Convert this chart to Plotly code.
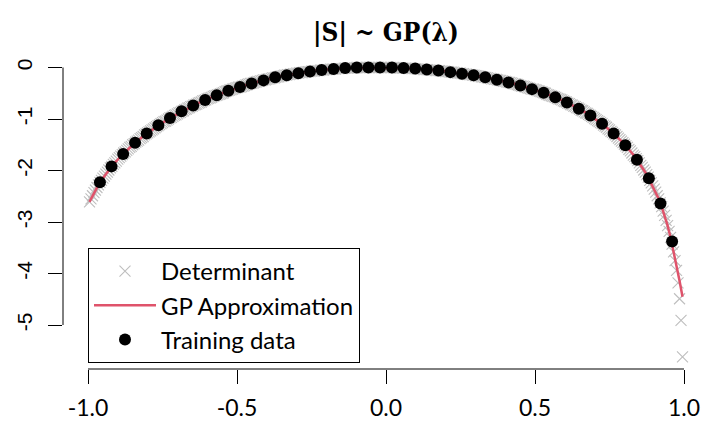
import numpy as np
import plotly.graph_objects as go

# ---- data ----
# lambda grid of the determinant evaluations (evenly spaced sample positions)
lam_det = np.round(np.linspace(-0.995, 0.995, 399), 3)
det_y = [
    -2.61, -2.55, -2.49, -2.43, -2.38, -2.33, -2.28, -2.23, -2.19, -2.15,
    -2.11, -2.07, -2.03, -1.99, -1.95, -1.92, -1.88, -1.85, -1.82, -1.78,
    -1.75, -1.72, -1.69, -1.66, -1.64, -1.61, -1.58, -1.55, -1.53, -1.50,
    -1.48, -1.45, -1.43, -1.41, -1.38, -1.36, -1.34, -1.31, -1.29, -1.27,
    -1.25, -1.23, -1.21, -1.19, -1.17, -1.15, -1.13, -1.11, -1.09, -1.07,
    -1.05, -1.04, -1.02, -1.00, -0.98, -0.97, -0.95, -0.93, -0.92, -0.90,
    -0.88, -0.87, -0.85, -0.84, -0.82, -0.81, -0.79, -0.78, -0.76, -0.75,
    -0.73, -0.72, -0.71, -0.69, -0.68, -0.67, -0.65, -0.64, -0.63, -0.61,
    -0.60, -0.59, -0.58, -0.56, -0.55, -0.54, -0.53, -0.52, -0.51, -0.50,
    -0.49, -0.47, -0.46, -0.45, -0.44, -0.43, -0.42, -0.41, -0.40, -0.39,
    -0.38, -0.38, -0.37, -0.36, -0.35, -0.34, -0.33, -0.32, -0.31, -0.31,
    -0.30, -0.29, -0.28, -0.27, -0.27, -0.26, -0.25, -0.24, -0.24, -0.23,
    -0.22, -0.22, -0.21, -0.20, -0.20, -0.19, -0.18, -0.18, -0.17, -0.17,
    -0.16, -0.15, -0.15, -0.14, -0.14, -0.13, -0.13, -0.12, -0.12, -0.11,
    -0.11, -0.10, -0.10, -0.10, -0.09, -0.09, -0.08, -0.08, -0.08, -0.07,
    -0.07, -0.07, -0.06, -0.06, -0.06, -0.05, -0.05, -0.05, -0.04, -0.04,
    -0.04, -0.04, -0.03, -0.03, -0.03, -0.03, -0.02, -0.02, -0.02, -0.02,
    -0.02, -0.01, -0.01, -0.01, -0.01, -0.01, -0.01, -0.01, -0.01, 0.00,
    0.00, 0.00, 0.00, 0.00, 0.00, 0.00, 0.00, 0.00, 0.00, 0.00,
    0.00, 0.00, 0.00, 0.00, 0.00, 0.00, 0.00, 0.00, 0.00, 0.00,
    0.00, 0.00, 0.00, 0.00, 0.00, 0.00, -0.01, -0.01, -0.01, -0.01,
    -0.01, -0.01, -0.01, -0.01, -0.02, -0.02, -0.02, -0.02, -0.02, -0.02,
    -0.03, -0.03, -0.03, -0.03, -0.04, -0.04, -0.04, -0.04, -0.05, -0.05,
    -0.05, -0.05, -0.06, -0.06, -0.06, -0.06, -0.07, -0.07, -0.07, -0.08,
    -0.08, -0.08, -0.09, -0.09, -0.09, -0.10, -0.10, -0.11, -0.11, -0.11,
    -0.12, -0.12, -0.13, -0.13, -0.14, -0.14, -0.14, -0.15, -0.15, -0.16,
    -0.16, -0.17, -0.17, -0.18, -0.18, -0.19, -0.19, -0.20, -0.21, -0.21,
    -0.22, -0.22, -0.23, -0.23, -0.24, -0.25, -0.25, -0.26, -0.27, -0.27,
    -0.28, -0.29, -0.29, -0.30, -0.31, -0.32, -0.32, -0.33, -0.34, -0.35,
    -0.36, -0.36, -0.37, -0.38, -0.39, -0.40, -0.41, -0.42, -0.42, -0.43,
    -0.44, -0.45, -0.46, -0.47, -0.48, -0.49, -0.50, -0.52, -0.53, -0.54,
    -0.55, -0.56, -0.57, -0.58, -0.60, -0.61, -0.62, -0.63, -0.65, -0.66,
    -0.67, -0.69, -0.70, -0.72, -0.73, -0.75, -0.76, -0.78, -0.79, -0.81,
    -0.83, -0.84, -0.86, -0.88, -0.89, -0.91, -0.93, -0.95, -0.97, -0.99,
    -1.01, -1.03, -1.05, -1.07, -1.09, -1.12, -1.14, -1.16, -1.19, -1.21,
    -1.24, -1.26, -1.29, -1.31, -1.34, -1.37, -1.40, -1.43, -1.46, -1.49,
    -1.52, -1.55, -1.59, -1.62, -1.66, -1.70, -1.73, -1.77, -1.81, -1.85,
    -1.90, -1.94, -1.99, -2.03, -2.08, -2.13, -2.19, -2.24, -2.30, -2.36,
    -2.42, -2.49, -2.55, -2.63, -2.70, -2.79, -2.87, -2.97, -3.07, -3.18,
    -3.30, -3.43, -3.58, -3.75, -3.94, -4.18, -4.49, -4.91, -5.62,
]

# lambda grid of the GP approximation curve
lam_gp = np.round(np.linspace(-0.995, 0.995, 200), 3)
gp_y = [
    -2.61, -2.49, -2.38, -2.28, -2.19, -2.11, -2.03, -1.95, -1.88, -1.82,
    -1.75, -1.69, -1.64, -1.58, -1.53, -1.48, -1.43, -1.38, -1.34, -1.29,
    -1.25, -1.21, -1.17, -1.13, -1.09, -1.05, -1.02, -0.98, -0.95, -0.92,
    -0.88, -0.85, -0.82, -0.79, -0.76, -0.73, -0.71, -0.68, -0.65, -0.63,
    -0.60, -0.58, -0.55, -0.53, -0.51, -0.49, -0.46, -0.44, -0.42, -0.40,
    -0.38, -0.37, -0.35, -0.33, -0.31, -0.30, -0.28, -0.27, -0.25, -0.24,
    -0.22, -0.21, -0.20, -0.18, -0.17, -0.16, -0.15, -0.14, -0.13, -0.12,
    -0.11, -0.10, -0.09, -0.08, -0.08, -0.07, -0.06, -0.06, -0.05, -0.04,
    -0.04, -0.03, -0.03, -0.02, -0.02, -0.02, -0.01, -0.01, -0.01, -0.01,
    0.00, 0.00, 0.00, 0.00, 0.00, 0.00, 0.00, 0.00, 0.00, 0.00,
    0.00, 0.00, 0.00, -0.01, -0.01, -0.01, -0.01, -0.02, -0.02, -0.02,
    -0.03, -0.03, -0.04, -0.04, -0.05, -0.05, -0.06, -0.06, -0.07, -0.07,
    -0.08, -0.09, -0.09, -0.10, -0.11, -0.12, -0.13, -0.14, -0.14, -0.15,
    -0.16, -0.17, -0.18, -0.19, -0.21, -0.22, -0.23, -0.24, -0.25, -0.27,
    -0.28, -0.29, -0.31, -0.32, -0.34, -0.36, -0.37, -0.39, -0.41, -0.42,
    -0.44, -0.46, -0.48, -0.50, -0.53, -0.55, -0.57, -0.60, -0.62, -0.65,
    -0.67, -0.70, -0.73, -0.76, -0.79, -0.83, -0.86, -0.89, -0.93, -0.97,
    -1.01, -1.05, -1.09, -1.14, -1.19, -1.24, -1.29, -1.34, -1.40, -1.46,
    -1.52, -1.59, -1.66, -1.73, -1.81, -1.90, -1.99, -2.08, -2.19, -2.30,
    -2.42, -2.55, -2.70, -2.87, -3.07, -3.30, -3.56, -3.85, -4.14, -4.45,
]

train_x = [-0.960, -0.921, -0.882, -0.842, -0.803, -0.764, -0.725, -0.686, -0.647, -0.607,
           -0.568, -0.529, -0.490, -0.451, -0.411, -0.372, -0.333, -0.294, -0.255, -0.216,
           -0.176, -0.137, -0.098, -0.059, -0.020, 0.020, 0.059, 0.098, 0.137, 0.176,
           0.216, 0.255, 0.294, 0.333, 0.372, 0.411, 0.451, 0.490, 0.529, 0.568,
           0.607, 0.647, 0.686, 0.725, 0.764, 0.803, 0.842, 0.882, 0.921, 0.960]
train_y = [-2.23, -1.92, -1.68, -1.46, -1.28, -1.12, -0.98, -0.85, -0.74, -0.63,
           -0.54, -0.45, -0.38, -0.31, -0.25, -0.19, -0.15, -0.11, -0.08, -0.05,
           -0.03, -0.01, 0.00, 0.00, 0.00, 0.00, -0.01, -0.02, -0.04, -0.06,
           -0.09, -0.12, -0.15, -0.19, -0.24, -0.29, -0.35, -0.42, -0.49, -0.58,
           -0.68, -0.80, -0.93, -1.09, -1.28, -1.51, -1.79, -2.15, -2.64, -3.38]

x_ticks = [-1, -0.5, 0, 0.5, 1]
x_ticklabels = ['-1.0', '-0.5', '0.0', '0.5', '1.0']
y_ticks = [0, -1, -2, -3, -4, -5]
y_ticklabels = ['0', '-1', '-2', '-3', '-4', '-5']

# ---- figure ----
fig = go.Figure()
fig.add_trace(go.Scatter(x=lam_det, y=det_y, mode='markers', name='Determinant', cliponaxis=False,
    marker=dict(symbol='x-thin-open', size=11, color='#BEBEBE', line=dict(width=1.1, color='#BEBEBE'))))
fig.add_trace(go.Scatter(x=lam_gp, y=gp_y, mode='lines', name='GP Approximation',
    line=dict(color='#DF536B', width=2.5)))
fig.add_trace(go.Scatter(x=train_x, y=train_y, mode='markers', name='Training data', cliponaxis=False,
    marker=dict(symbol='circle', size=12, color='black')))

W, H = 704, 432
L, R, T, B = 63, 0, 56, 63
pw, ph = W - L - R, H - T - B
xpx = 298.0   # pixels per x unit
ypx = 51.5    # pixels per y unit
x_range = [-1 - 25 / xpx, 1 + (pw - 25 - 2 * xpx) / xpx]
y_range = [-5 - (H - B - 325) / ypx, (67.5 - T) / ypx]

fig.update_layout(width=W, height=H, margin=dict(l=L, r=R, t=T, b=B),
    paper_bgcolor='white', plot_bgcolor='white', showlegend=True,
    title=dict(text='<b>|S| ~ GP(λ)</b>', font=dict(family='DejaVu Serif Condensed', size=26, color='black'),
               x=386 / W, xref='container', xanchor='center', y=1 - 32 / H, yref='container', yanchor='middle'),
    legend=dict(x=25 / pw, y=(H - B - 248) / ph, xanchor='left', yanchor='top', bordercolor='black', borderwidth=1,
                bgcolor='white', font=dict(family='Lato', size=24, color='black'), itemwidth=62, tracegroupgap=0),
    xaxis=dict(range=x_range, showline=False, automargin=False,
               ticks='outside', ticklen=14, tickwidth=1, tickcolor='black', ticklabelstandoff=4,
               tickvals=x_ticks, ticktext=x_ticklabels,
               tickfont=dict(family='Lato', size=23, color='black'), showgrid=False, zeroline=False),
    yaxis=dict(range=y_range, showline=False, automargin=False,
               ticks='outside', ticklen=14, tickwidth=1, tickcolor='black', ticklabelstandoff=8,
               tickvals=y_ticks, ticktext=y_ticklabels, tickangle=-90,
               tickfont=dict(family='Liberation Sans', size=21, color='black'), showgrid=False, zeroline=False),
    shapes=[
        dict(type='line', xref='x', yref='paper', x0=x_ticks[0], x1=x_ticks[-1], y0=0, y1=0,
             line=dict(color='black', width=1)),
        dict(type='line', xref='paper', yref='y', x0=0, x1=0, y0=y_ticks[-1], y1=y_ticks[0],
             line=dict(color='black', width=1)),
    ])
fig.write_html("out.html")
